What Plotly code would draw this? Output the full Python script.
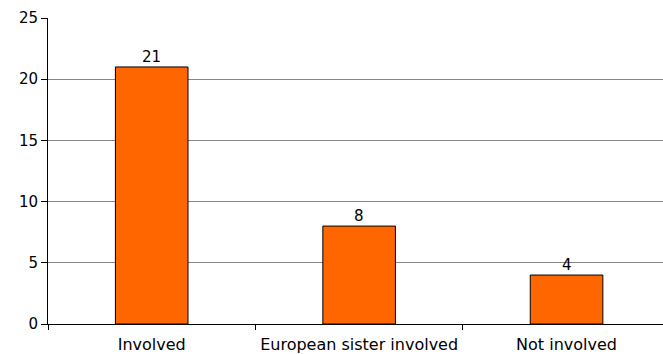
import plotly.graph_objects as go

categories = ["Involved", "European sister involved", "Not involved"]
counts = [21, 8, 4]
y_ticks = [0, 5, 10, 15, 20, 25]

font_family = "DejaVu Sans, Liberation Sans, Arial, sans-serif"

fig = go.Figure(
    go.Bar(
        x=categories,
        y=counts,
        width=0.35,
        marker=dict(color="#FF6600", line=dict(color="#000000", width=1)),
        hoverinfo="x+y",
    )
)

# value labels sitting just above each bar
for cat, val in zip(categories, counts):
    fig.add_annotation(
        x=cat,
        y=val,
        text=str(val),
        showarrow=False,
        yanchor="bottom",
        yshift=-1,
        font=dict(family=font_family, size=15, color="#000000"),
    )

fig.update_layout(
    width=663,
    height=354,
    margin=dict(l=48, r=0, t=18, b=30),
    plot_bgcolor="white",
    paper_bgcolor="white",
    showlegend=False,
    font=dict(family=font_family, size=15, color="#000000"),
)

fig.update_xaxes(
    type="category",
    range=[-0.5, 2.465],
    showline=True,
    linecolor="#000000",
    linewidth=1,
    ticks="outside",
    tickson="boundaries",
    ticklen=5,
    tickcolor="#000000",
    ticklabelstandoff=6,
    showgrid=False,
    tickfont=dict(family=font_family, size=16, color="#000000"),
)

fig.update_yaxes(
    range=[0, 25],
    tickvals=y_ticks,
    showline=True,
    linecolor="#000000",
    linewidth=1,
    ticks="outside",
    ticklen=6,
    tickcolor="#000000",
    showgrid=True,
    gridcolor="#868686",
    gridwidth=1,
    zeroline=False,
    tickfont=dict(family=font_family, size=15, color="#000000"),
)

fig.write_html("out.html")
